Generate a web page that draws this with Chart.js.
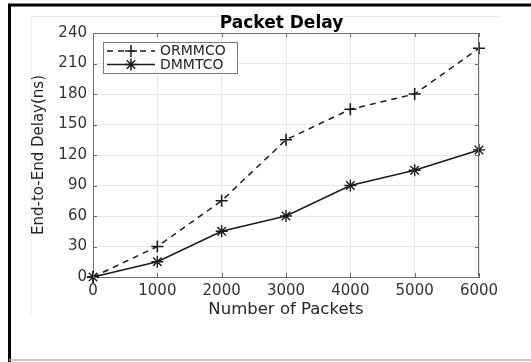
<!DOCTYPE html>
<html>
<head>
<meta charset="utf-8">
<script src="https://cdn.jsdelivr.net/npm/chart.js@4/dist/chart.umd.min.js"></script>
<style>
  html, body { margin: 0; padding: 0; background: #fff; }
  #wrap { width: 531px; height: 362px; position: relative; }
</style>
</head>
<body>
<div id="wrap"><canvas id="c" width="531" height="362"></canvas></div>
<script>
// Packet delay versus number of packets for the two schemes
const packets = [0, 1000, 2000, 3000, 4000, 5000, 6000];
const ormmcoDelay = [0, 30, 75, 135, 165, 180, 225];
const dmmtcoDelay = [0, 15, 45, 60, 90, 105, 125];
const xTickValues = [0, 1000, 2000, 3000, 4000, 5000, 6000];
const yTickValues = [0, 30, 60, 90, 120, 150, 180, 210, 240];
const seriesNames = ['ORMMCO', 'DMMTCO'];
const chartTitle = 'Packet Delay';
const xTitle = 'Number of Packets';
const yTitle = 'End-to-End Delay(ns)';

const FONT = '"DejaVu Sans", "Liberation Sans", sans-serif';
const INK = '#1a1a1a';
const AXIS = '#6e6e6e';

function toPoints(values) {
  return packets.map((p, i) => ({ x: p, y: values[i] }));
}

// Frame, axes box, inward ticks, title and in-plot legend
const decor = {
  id: 'decor',
  beforeDraw(chart) {
    const ctx = chart.ctx;
    ctx.save();
    ctx.fillStyle = '#fff';
    ctx.fillRect(0, 0, chart.width, chart.height);
    // faint figure box
    ctx.strokeStyle = '#ececec';
    ctx.lineWidth = 1;
    ctx.beginPath();
    ctx.moveTo(31, 315); ctx.lineTo(31, 16.5); ctx.lineTo(500, 16.5);
    ctx.stroke();
    // outer frame
    ctx.strokeStyle = '#000';
    ctx.lineWidth = 3;
    ctx.beginPath();
    ctx.moveTo(9.5, 362); ctx.lineTo(9.5, 5); ctx.lineTo(531, 5);
    ctx.stroke();
    ctx.strokeStyle = '#b4b4b4';
    ctx.lineWidth = 1.5;
    ctx.beginPath();
    ctx.moveTo(9, 360); ctx.lineTo(531, 360);
    ctx.stroke();
    ctx.restore();
  },
  afterDatasetsDraw(chart) {
    const ctx = chart.ctx;
    const a = chart.chartArea;
    const xs = chart.scales.x, ys = chart.scales.y;
    ctx.save();
    // box lines on top and right
    ctx.strokeStyle = AXIS;
    ctx.lineWidth = 1;
    ctx.beginPath();
    ctx.moveTo(a.left, a.top + 0.5); ctx.lineTo(a.right, a.top + 0.5);
    ctx.moveTo(a.right - 0.5, a.top); ctx.lineTo(a.right - 0.5, a.bottom);
    ctx.stroke();
    // inward tick marks
    ctx.beginPath();
    const tl = 4;
    xTickValues.forEach(v => {
      const px = Math.round(xs.getPixelForValue(v)) + 0.5;
      ctx.moveTo(px, a.bottom); ctx.lineTo(px, a.bottom - tl);
      ctx.moveTo(px, a.top); ctx.lineTo(px, a.top + tl);
    });
    yTickValues.forEach(v => {
      const py = Math.round(ys.getPixelForValue(v)) + 0.5;
      ctx.moveTo(a.left, py); ctx.lineTo(a.left + tl, py);
      ctx.moveTo(a.right, py); ctx.lineTo(a.right - tl, py);
    });
    ctx.stroke();

    // title
    ctx.fillStyle = '#000';
    ctx.font = 'bold 17px ' + FONT;
    ctx.textAlign = 'center';
    ctx.textBaseline = 'middle';
    ctx.fillText(chartTitle, 281.5, 24);

    // legend
    const lx = 103, ly = 42, lw = 134, lh = 31;
    ctx.fillStyle = '#fff';
    ctx.fillRect(lx, ly, lw, lh);
    ctx.strokeStyle = '#7a7a7a';
    ctx.lineWidth = 1;
    ctx.strokeRect(lx + 0.5, ly + 0.5, lw, lh);
    const rows = [51, 64.5];
    chart.data.datasets.forEach((ds, i) => {
      const y = rows[i];
      ctx.strokeStyle = ds.borderColor;
      ctx.lineWidth = ds.borderWidth;
      ctx.setLineDash(ds.borderDash || []);
      ctx.beginPath();
      ctx.moveTo(107, y); ctx.lineTo(155, y);
      ctx.stroke();
      ctx.setLineDash([]);
      Chart.helpers.drawPoint(ctx, {
        pointStyle: ds.pointStyle, radius: ds.pointRadius, rotation: 0,
        borderWidth: ds.pointBorderWidth
      }, 131, y);
      ctx.fillStyle = '#262626';
      ctx.font = '14px ' + FONT;
      ctx.textAlign = 'left';
      ctx.textBaseline = 'middle';
      ctx.fillText(ds.label, 160, y + 0.5);
    });
    ctx.restore();
  }
};

new Chart(document.getElementById('c'), {
  type: 'line',
  data: {
    datasets: [
      {
        label: seriesNames[0],
        data: toPoints(ormmcoDelay),
        borderColor: INK,
        backgroundColor: INK,
        borderWidth: 1.5,
        borderDash: [6, 5],
        pointStyle: 'cross',
        pointRadius: 6,
        pointBorderWidth: 1.6,
        pointBorderColor: INK,
        fill: false,
        tension: 0,
        clip: false
      },
      {
        label: seriesNames[1],
        data: toPoints(dmmtcoDelay),
        borderColor: INK,
        backgroundColor: INK,
        borderWidth: 1.5,
        pointStyle: 'star',
        pointRadius: 6,
        pointBorderWidth: 1.4,
        pointBorderColor: INK,
        fill: false,
        tension: 0,
        clip: false
      }
    ]
  },
  options: {
    responsive: false,
    animation: false,
    devicePixelRatio: 1,
    layout: { padding: { left: 26, right: 52, top: 33, bottom: 38 } },
    plugins: {
      legend: { display: false },
      title: { display: false },
      tooltip: { enabled: false }
    },
    scales: {
      x: {
        type: 'linear',
        min: 0, max: 6000,
        afterFit(s) { s.height = 47; },
        afterBuildTicks(s) { s.ticks = xTickValues.map(v => ({ value: v })); },
        grid: { color: '#e8e8e8', lineWidth: 1, drawTicks: false },
        border: { display: true, color: AXIS, width: 1 },
        ticks: {
          padding: 5,
          color: '#333',
          font: { family: FONT, size: 15 },
          maxRotation: 0,
          autoSkip: false,
          callback: v => String(v)
        },
        title: {
          display: true,
          text: xTitle,
          color: '#262626',
          font: { family: FONT, size: 16.5 },
          padding: { top: 4, bottom: 4 }
        }
      },
      y: {
        type: 'linear',
        min: 0, max: 240,
        afterFit(s) { s.width = 67; },
        afterBuildTicks(s) { s.ticks = yTickValues.map(v => ({ value: v })); },
        grid: { color: '#e8e8e8', lineWidth: 1, drawTicks: false },
        border: { display: true, color: AXIS, width: 1 },
        ticks: {
          padding: 6,
          color: '#333',
          font: { family: FONT, size: 15 },
          autoSkip: false,
          callback: v => String(v)
        },
        title: {
          display: true,
          text: yTitle,
          color: '#262626',
          font: { family: FONT, size: 15 },
          padding: { top: 4, bottom: 4 }
        }
      }
    }
  },
  plugins: [decor]
});
</script>
</body>
</html>
